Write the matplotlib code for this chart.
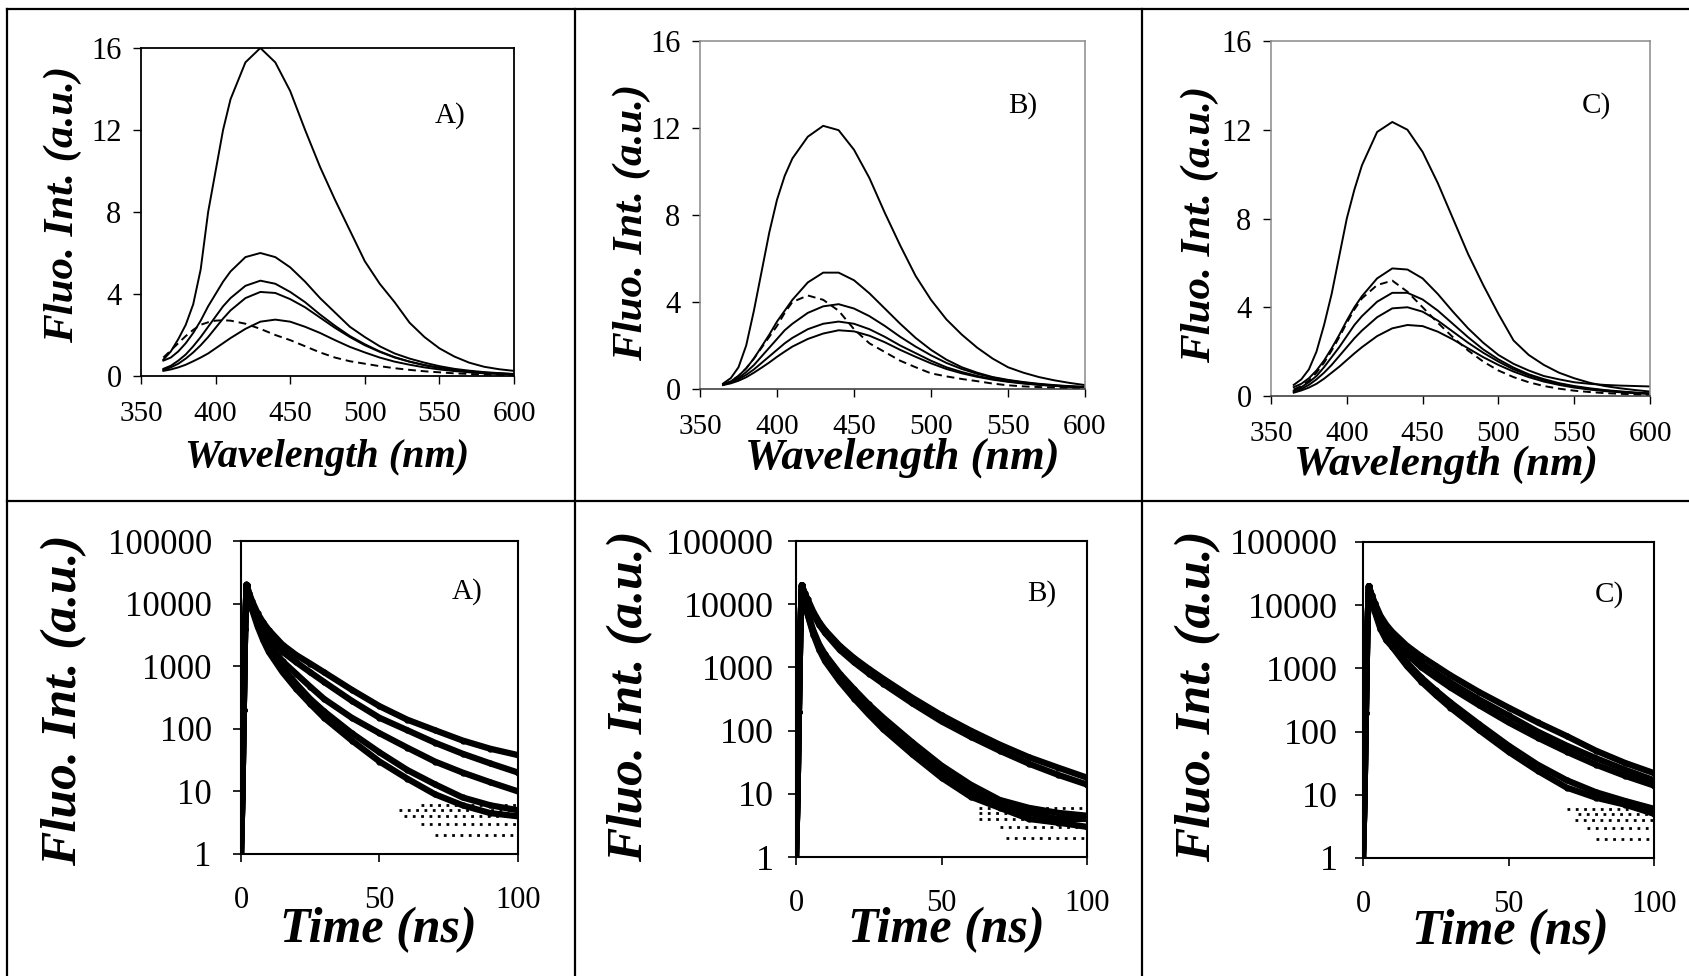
import matplotlib
matplotlib.use("Agg")
import matplotlib.pyplot as plt
from matplotlib.lines import Line2D

plt.rcParams['font.family'] = ['Liberation Serif', 'DejaVu Serif']

W, H = 1690, 976

# emission spectra (wavelength in nm, intensity in a.u.)
wl = [365, 370, 375, 380, 385, 390, 395, 400, 405, 410, 420, 430, 440, 450, 460,
      470, 480, 490, 500, 510, 520, 530, 540, 550, 560, 570, 580, 590, 600]

spec_A = [
    [0.8, 1.2, 1.8, 2.5, 3.5, 5.2, 8.0, 10.0, 12.0, 13.5, 15.3, 16.0, 15.3, 13.9, 12.0,
     10.2, 8.6, 7.1, 5.6, 4.5, 3.6, 2.6, 1.9, 1.35, 0.95, 0.65, 0.45, 0.33, 0.25],
    [0.75, 0.9, 1.2, 1.6, 2.1, 2.7, 3.4, 4.0, 4.6, 5.1, 5.8, 6.0, 5.8, 5.3, 4.6,
     3.8, 3.1, 2.4, 1.9, 1.45, 1.1, 0.85, 0.65, 0.48, 0.35, 0.26, 0.19, 0.14, 0.1],
    [0.35, 0.5, 0.75, 1.05, 1.45, 1.9, 2.4, 2.9, 3.4, 3.8, 4.4, 4.65, 4.5, 4.1, 3.6,
     3.0, 2.45, 1.95, 1.55, 1.2, 0.92, 0.7, 0.53, 0.4, 0.3, 0.22, 0.16, 0.12, 0.09],
    [0.3, 0.42, 0.6, 0.85, 1.15, 1.5, 1.9, 2.35, 2.8, 3.2, 3.8, 4.1, 4.05, 3.75, 3.35,
     2.85, 2.35, 1.9, 1.5, 1.18, 0.9, 0.7, 0.53, 0.4, 0.3, 0.22, 0.16, 0.12, 0.09],
    [0.25, 0.32, 0.42, 0.55, 0.72, 0.9, 1.1, 1.35, 1.6, 1.85, 2.3, 2.65, 2.75, 2.65, 2.4,
     2.1, 1.75, 1.42, 1.15, 0.9, 0.7, 0.55, 0.42, 0.32, 0.24, 0.18, 0.13, 0.1, 0.07],
]
dash_A = [0.9, 1.25, 1.6, 1.95, 2.25, 2.5, 2.62, 2.7, 2.72, 2.7, 2.55, 2.3, 2.0, 1.75, 1.45,
          1.15, 0.9, 0.72, 0.6, 0.48, 0.38, 0.3, 0.23, 0.18, 0.13, 0.1, 0.07, 0.05, 0.04]

spec_B = [
    [0.25, 0.5, 1.0, 2.0, 3.6, 5.4, 7.2, 8.7, 9.8, 10.6, 11.6, 12.1, 11.9, 11.0, 9.7,
     8.1, 6.6, 5.2, 4.1, 3.2, 2.5, 1.9, 1.4, 1.0, 0.75, 0.55, 0.4, 0.28, 0.18],
    [0.2, 0.35, 0.6, 0.95, 1.4, 1.95, 2.5, 3.1, 3.6, 4.1, 4.9, 5.35, 5.35, 5.0, 4.4,
     3.7, 3.0, 2.35, 1.8, 1.35, 1.0, 0.75, 0.55, 0.42, 0.32, 0.24, 0.18, 0.13, 0.1],
    [0.2, 0.32, 0.5, 0.78, 1.1, 1.5, 1.9, 2.3, 2.7, 3.0, 3.5, 3.8, 3.9, 3.7, 3.35,
     2.9, 2.4, 1.95, 1.55, 1.2, 0.92, 0.7, 0.53, 0.4, 0.3, 0.22, 0.16, 0.12, 0.09],
    [0.2, 0.3, 0.45, 0.65, 0.9, 1.2, 1.5, 1.8, 2.1, 2.35, 2.75, 3.0, 3.1, 3.0, 2.75,
     2.4, 2.0, 1.65, 1.3, 1.0, 0.78, 0.6, 0.46, 0.35, 0.27, 0.2, 0.15, 0.11, 0.08],
    [0.18, 0.26, 0.38, 0.54, 0.75, 0.98, 1.22, 1.48, 1.72, 1.95, 2.3, 2.55, 2.7, 2.65, 2.45,
     2.15, 1.8, 1.48, 1.18, 0.92, 0.72, 0.56, 0.43, 0.33, 0.25, 0.19, 0.14, 0.1, 0.08],
]
dash_B = [0.2, 0.35, 0.6, 0.95, 1.4, 1.9, 2.4, 2.9, 3.5, 4.0, 4.3, 4.1, 3.6, 2.75, 2.1,
          1.7, 1.3, 1.0, 0.72, 0.58, 0.46, 0.36, 0.25, 0.17, 0.12, 0.09, 0.06, 0.04, 0.03]

spec_C = [
    [0.5, 0.75, 1.2, 2.0, 3.2, 4.6, 6.3, 8.0, 9.3, 10.4, 11.9, 12.35, 12.0, 11.0, 9.6,
     8.0, 6.4, 5.0, 3.7, 2.5, 1.85, 1.4, 1.05, 0.8, 0.6, 0.45, 0.35, 0.27, 0.2],
    [0.4, 0.55, 0.8, 1.15, 1.6, 2.15, 2.75, 3.4, 4.0, 4.5, 5.3, 5.75, 5.7, 5.3, 4.6,
     3.8, 3.05, 2.4, 1.85, 1.45, 1.15, 0.9, 0.75, 0.62, 0.55, 0.5, 0.47, 0.45, 0.43],
    [0.25, 0.4, 0.62, 0.9, 1.3, 1.75, 2.2, 2.7, 3.2, 3.6, 4.25, 4.65, 4.65, 4.35, 3.85,
     3.25, 2.65, 2.1, 1.65, 1.28, 0.98, 0.76, 0.58, 0.45, 0.35, 0.27, 0.21, 0.16, 0.12],
    [0.2, 0.32, 0.5, 0.75, 1.05, 1.4, 1.8, 2.2, 2.6, 2.95, 3.55, 3.95, 4.0, 3.8, 3.4,
     2.9, 2.4, 1.95, 1.55, 1.2, 0.93, 0.72, 0.55, 0.42, 0.32, 0.25, 0.19, 0.14, 0.1],
    [0.15, 0.25, 0.38, 0.55, 0.78, 1.05, 1.32, 1.62, 1.92, 2.2, 2.7, 3.05, 3.2, 3.15, 2.9,
     2.55, 2.15, 1.75, 1.4, 1.1, 0.85, 0.65, 0.5, 0.38, 0.29, 0.22, 0.17, 0.13, 0.1],
]
dash_C = [0.3, 0.45, 0.7, 1.05, 1.5, 2.05, 2.65, 3.3, 3.9, 4.4, 5.0, 5.2, 4.7, 4.0, 3.3,
          2.65, 2.05, 1.55, 1.15, 0.85, 0.62, 0.45, 0.33, 0.24, 0.18, 0.13, 0.1, 0.07, 0.05]

# fluorescence decays (time in ns, counts)
t_rise = [0, 0.5, 1.0, 1.5]
rise_counts = [1, 8, 200, 4000]
t_decay = [2, 3, 4, 6, 8, 10, 15, 20, 25, 30, 40, 50, 60, 70, 80, 90, 100]

decay_A = [
    [20000, 14500, 11000, 7000, 5000, 3800, 2200, 1500, 1100, 800, 420, 230, 140, 95, 65, 48, 38],
    [20000, 14000, 10000, 6000, 4200, 3000, 1700, 1150, 800, 560, 280, 150, 95, 60, 40, 28, 20],
    [20000, 13000, 9000, 5200, 3300, 2300, 1200, 750, 470, 300, 150, 85, 50, 30, 20, 14, 10],
    [20000, 12500, 8500, 4800, 3000, 2000, 950, 520, 300, 190, 85, 42, 22, 13, 8, 6, 5],
    [20000, 12000, 8000, 4300, 2600, 1700, 800, 430, 250, 150, 65, 30, 16, 9, 6, 4.5, 4],
]
decay_B = [
    [20000, 15000, 12000, 7500, 5200, 3900, 2200, 1400, 950, 660, 330, 175, 100, 60, 38, 26, 18],
    [20000, 14500, 11000, 6800, 4700, 3500, 1900, 1200, 800, 550, 270, 140, 80, 48, 30, 20, 14],
    [20000, 11000, 7000, 3500, 2000, 1400, 700, 380, 220, 130, 50, 22, 11, 7, 5, 4, 4],
    [20000, 11500, 7200, 3800, 2300, 1600, 800, 450, 260, 160, 65, 28, 14, 8, 6, 5, 4.5],
    [20000, 10500, 6800, 3300, 1900, 1250, 600, 320, 180, 105, 42, 18, 9, 6, 4, 3.5, 3],
]
decay_C = [
    [20000, 14500, 11000, 6800, 4900, 3800, 2300, 1550, 1100, 780, 420, 240, 140, 85, 50, 32, 22],
    [20000, 14000, 10500, 6200, 4300, 3300, 1900, 1200, 850, 600, 320, 180, 100, 60, 38, 25, 17],
    [20000, 13500, 10000, 5800, 4000, 3000, 1700, 1050, 720, 500, 260, 140, 80, 48, 30, 20, 14],
    [20000, 12500, 8500, 4600, 3100, 2400, 1250, 720, 450, 290, 130, 60, 30, 17, 11, 8, 6],
    [20000, 12000, 8000, 4200, 2800, 2200, 1100, 620, 380, 240, 105, 48, 24, 13, 9, 7, 5],
]

# low-count floor rows seen at the end of the decays
floor_counts = [1, 2, 3, 4, 5, 6]
floor_start_A = [68, 70, 65, 59, 57, 65]
floor_start_B = [75, 72, 70, 63, 63, 63]
floor_start_C = [85, 80, 77, 73, 74, 70]

panel_tags = ['A)', 'B)', 'C)']


def px_axes(fig, left, top, right, bottom):
    return fig.add_axes([left / W, 1 - bottom / H, (right - left) / W, (bottom - top) / H])


def fig_text(fig, x, y, s, **kw):
    fig.text(x / W, 1 - y / H, s, ha='center', va='center', **kw)


fig = plt.figure(figsize=(W / 100, H / 100), dpi=100)

# table grid
for seg in [((7, W), (9, 9)), ((7, 7), (9, H)), ((574.5, 574.5), (9, H)),
            ((1142, 1142), (9, H)), ((7, W), (501, 501))]:
    xs = [v / W for v in seg[0]]
    ys = [1 - v / H for v in seg[1]]
    fig.add_artist(Line2D(xs, ys, color='black', lw=1.6, transform=fig.transFigure))

# top row: spectra
top_boxes = [(141, 48, 514, 376), (700, 41, 1085, 389), (1271, 41, 1650, 396)]
top_spine = ['black', '#8a8a8a', '#8a8a8a']
top_ylab = [(63, 204), (632, 222), (1200, 224)]
top_xlab = [(327, 458), (902, 458), (1446, 465)]
top_xsize = [29, 32, 31]
top_tag = [(450, 116), (1023, 106), (1596, 106)]
spec_sets = [(spec_A, dash_A), (spec_B, dash_B), (spec_C, dash_C)]

for i in range(3):
    ax = px_axes(fig, *top_boxes[i])
    solid, dashed = spec_sets[i]
    for s in solid:
        ax.plot(wl, s, color='black', lw=1.4)
    ax.plot(wl, dashed, color='black', lw=1.4, ls=(0, (4, 2.5)))
    ax.set_xlim(350, 600)
    ax.set_ylim(0, 16)
    ax.set_xticks([350, 400, 450, 500, 550, 600])
    ax.set_yticks([0, 4, 8, 12, 16])
    ax.tick_params(direction='out', length=6, width=1.0)
    ax.tick_params(axis='x', pad=12, labelsize=21)
    ax.tick_params(axis='y', pad=8, labelsize=22)
    for sp in ax.spines.values():
        sp.set_color(top_spine[i])
        sp.set_linewidth(1.3 if i == 0 else 1.1)
    ax.spines['bottom'].set_color('#303030' if i else 'black')
    fig_text(fig, *top_ylab[i], 'Fluo. Int. (a.u.)', rotation=90, fontsize=31,
             fontweight='bold', style='italic')
    fig_text(fig, *top_xlab[i], 'Wavelength (nm)', fontsize=top_xsize[i],
             fontweight='bold', style='italic')
    fig_text(fig, *top_tag[i], panel_tags[i], fontsize=21)

# bottom row: decays
bot_boxes = [(241, 541, 518, 854), (796, 541, 1087, 857), (1363, 542, 1654, 858)]
bot_ylab = [(64, 700), (630, 696), (1198, 696)]
bot_xlab = [(378, 930), (946, 930), (1510, 932)]
bot_ypad = [15, 10, 12]
bot_ysize = [25, 26, 26]
bot_tag = [(467, 592), (1042, 594), (1609, 595)]
decay_sets = [decay_A, decay_B, decay_C]
floor_sets = [floor_start_A, floor_start_B, floor_start_C]

for i in range(3):
    ax = px_axes(fig, *bot_boxes[i])
    for d in decay_sets[i]:
        ax.plot(t_rise + t_decay, rise_counts + d, color='black', lw=4.5,
                marker='o', ms=3.5, solid_capstyle='round')
    ax.hlines(floor_counts, floor_sets[i], t_decay[-1], colors='black', lw=2.0,
              linestyles=(0, (1, 2)))
    ax.set_yscale('log')
    ax.set_xlim(0, 100)
    ax.set_ylim(1, 100000)
    ax.set_xticks([0, 50, 100])
    ax.set_yticks([1, 10, 100, 1000, 10000, 100000])
    ax.set_yticklabels(['1', '10', '100', '1000', '10000', '100000'])
    ax.minorticks_off()
    ax.tick_params(direction='out', length=6, width=1.2)
    ax.tick_params(axis='x', pad=17, labelsize=22)
    ax.tick_params(axis='y', pad=bot_ypad[i], labelsize=bot_ysize[i])
    for sp in ax.spines.values():
        sp.set_color('black')
        sp.set_linewidth(1.5)
    fig_text(fig, *bot_ylab[i], 'Fluo. Int. (a.u.)', rotation=90, fontsize=37,
             fontweight='bold', style='italic')
    fig_text(fig, *bot_xlab[i], 'Time (ns)', fontsize=36,
             fontweight='bold', style='italic')
    fig_text(fig, *bot_tag[i], panel_tags[i], fontsize=21)

fig.savefig('out.png', dpi=100, facecolor='white')
